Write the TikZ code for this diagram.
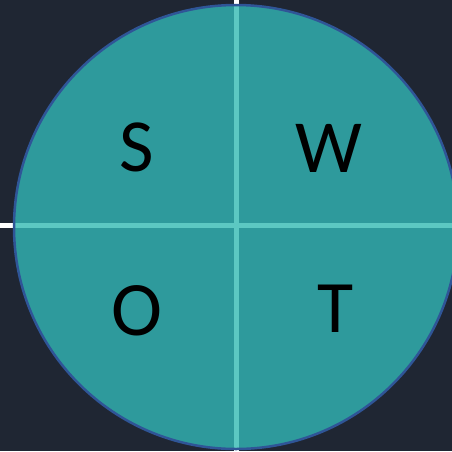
\documentclass[tikz,border=0pt]{standalone}
\usepackage{fontspec}
\setmainfont{Carlito}
\definecolor{bgc}{HTML}{1F2633}
\definecolor{tealc}{HTML}{2E9A9C}
\definecolor{linec}{HTML}{5CC8C2}
\definecolor{rimc}{HTML}{2F5597}
\tikzset{
  letter/.style={anchor=base, inner sep=0pt, text=black, font=\fontsize{75}{75}\selectfont},
  axisw/.style={draw=white, line width=5pt},
  axisin/.style={draw=linec, line width=5pt},
}
\begin{document}
\begin{tikzpicture}[x=1pt,y=-1pt]
\fill[bgc] (0,0) rectangle (452,451);
\useasboundingbox (0,0) rectangle (452,451);
\coordinate (top) at (236.5,0);
\coordinate (bot) at (236.5,451);
\coordinate (lft) at (0,225.3);
\coordinate (rgt) at (452,225.3);
\draw[axisw] (top) -- (bot);
\draw[axisw] (lft) -- (rgt);
\node[circle, minimum size=444pt, inner sep=0pt, fill=tealc] (c) at (236,227) {};
\begin{scope}
\clip (236,227) circle[radius=222];
\draw[axisin] (top) -- (bot);
\draw[axisin] (lft) -- (rgt);
\end{scope}
\draw[rimc, line width=2.5pt] (236,227) circle[radius=222];
\node[letter] (s) at (137,171) {S};
\node[letter] (w) at (328.5,172) {W};
\node[letter, font=\fontsize{77}{77}\selectfont] (o) at (136.5,335.5) {O};
\node[letter, font=\fontsize{74}{74}\selectfont] (t) at (335.5,332) {T};
\end{tikzpicture}
\end{document}
